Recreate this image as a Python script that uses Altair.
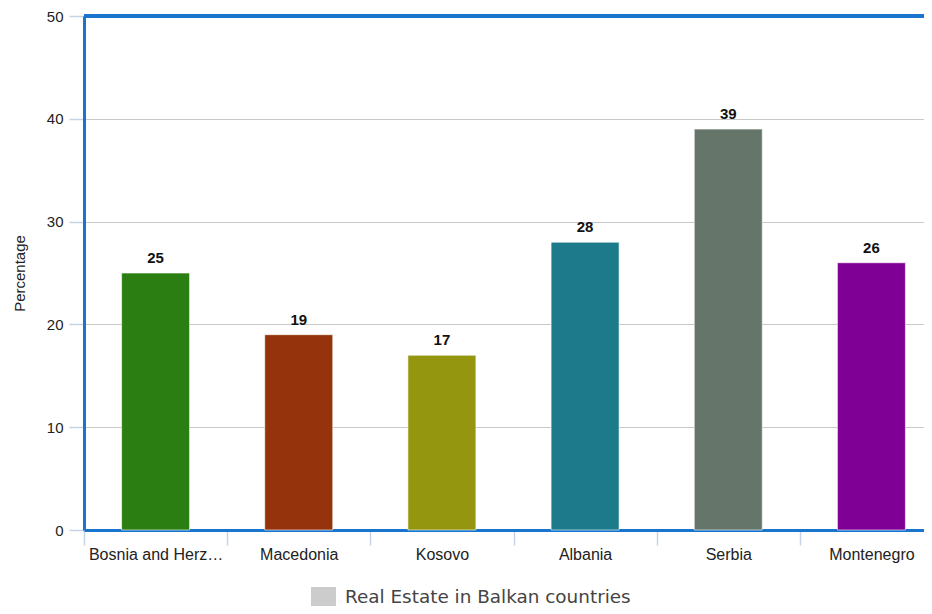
import altair as alt
import pandas as pd

countries = ["Bosnia and Herzegovina", "Macedonia", "Kosovo", "Albania", "Serbia", "Montenegro"]
values = [25, 19, 17, 28, 39, 26]
colors = ["#2b7f12", "#94330c", "#95960f", "#1c7a8a", "#66756a", "#7f0095"]
series = "Real Estate in Balkan countries"
y_ticks = [0, 10, 20, 30, 40, 50]

df = pd.DataFrame({"country": countries, "value": values, "color": colors, "series": series})

FRAME = "#1874cd"
TICK = "#c5d3e6"

x_scale = alt.Scale(range=[0, 859], paddingInner=0, paddingOuter=0)

x = alt.X(
    "country:N",
    sort=countries,
    title=None,
    scale=x_scale,
    axis=alt.Axis(
        labelAngle=0,
        labelFont="Liberation Sans",
        labelFontSize=16,
        labelColor="#222222",
        labelLimit=138,
        labelPadding=1,
        tickBand="extent",
        tickSize=15,
        tickColor=TICK,
        tickWidth=1.5,
        domain=True,
        domainColor=FRAME,
        domainWidth=3,
        grid=False,
    ),
)
y = alt.Y(
    "value:Q",
    title="Percentage",
    scale=alt.Scale(domain=[0, 50], nice=False),
    axis=alt.Axis(
        values=y_ticks,
        labelFont="Liberation Sans",
        labelFontSize=15,
        labelColor="#222222",
        labelPadding=6,
        tickSize=15,
        tickColor=TICK,
        tickWidth=1.5,
        domain=True,
        domainColor=FRAME,
        domainWidth=3,
        grid=True,
        gridColor="#c8c8c8",
        gridWidth=1.2,
        titleFont="Liberation Sans",
        titleFontSize=15,
        titleFontWeight="normal",
        titleColor="#222222",
        titlePadding=19,
    ),
)

bars = alt.Chart(df).mark_bar(
    width=alt.RelativeBandSize(0.475), stroke="white", strokeWidth=1, strokeOpacity=0.6
).encode(
    x=x,
    y=y,
    color=alt.Color("color:N", scale=None),
)

labels = alt.Chart(df).mark_text(
    baseline="alphabetic", dy=-10, font="Liberation Sans", fontSize=15, fontWeight="bold", color="#111111"
).encode(x=alt.X("country:N", sort=countries, scale=x_scale), y="value:Q", text="value:Q")

top_border = alt.Chart(df).mark_rule(color=FRAME, strokeWidth=3).encode(
    y=alt.Y(datum=50),
    x=alt.value(0),
    x2=alt.value(900),
)

legend_layer = alt.Chart(df).mark_square(size=0).encode(
    x=alt.X("country:N", sort=countries, scale=x_scale),
    y="value:Q",
    fill=alt.Fill(
        "series:N",
        scale=alt.Scale(domain=[series], range=["#cccccc"]),
        legend=alt.Legend(
            title=None,
            orient="none",
            legendX=230,
            legendY=571,
            symbolType="M-1.316,-1L1.316,-1L1.316,1L-1.316,1Z",
            symbolSize=361,
            symbolStrokeWidth=0,
            symbolOpacity=1,
            labelFont="DejaVu Sans",
            labelFontSize=18.4,
            labelColor="#444444",
            labelLimit=400,
            labelOffset=12,
        ),
    ),
)

chart = (
    alt.layer(bars, labels, top_border, legend_layer)
    .properties(
        width=840,
        height=514,
        autosize=alt.AutoSizeParams(type="none"),
        padding={"left": 76, "top": 8, "right": 0, "bottom": 76},
    )
    .configure_view(stroke=None)
)

chart.save("out.html", embed_options={"renderer": "svg", "actions": False})
